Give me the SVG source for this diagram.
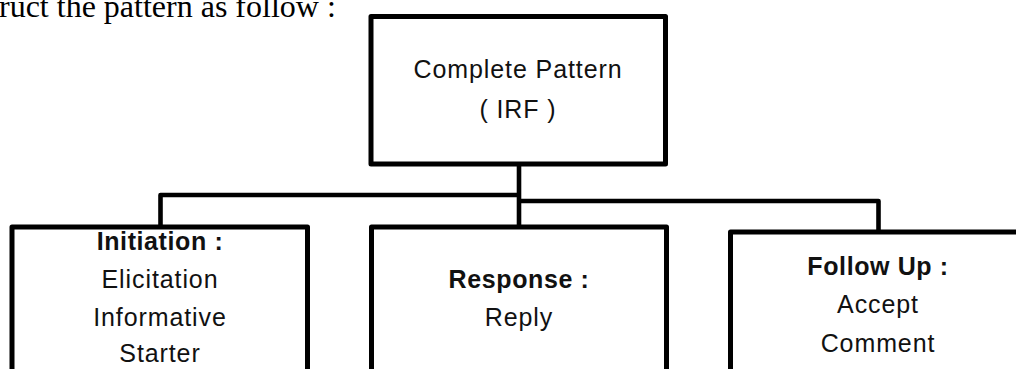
<svg xmlns="http://www.w3.org/2000/svg" width="1016" height="369" viewBox="0 0 1016 369">
<style>
.box{fill:#fff;stroke:#000;stroke-width:5;stroke-linejoin:round}
.con{fill:none;stroke:#000;stroke-width:4.6;stroke-linejoin:round}
.t{font-family:"Liberation Sans",Arial,sans-serif;font-size:25px;letter-spacing:0.9px;text-anchor:middle;fill:#111}
.b{font-weight:bold;letter-spacing:0.6px}
.cap{font-family:"Liberation Serif","Times New Roman",serif;font-size:32px;fill:#000}
</style>
<rect width="1016" height="369" fill="#fff"/>
<text class="cap" x="-1" y="17">ruct the pattern as follow :</text>
<g id="connectors">
<path class="con" d="M519,164 V227"/>
<path class="con" d="M519,195 H160.5 V227"/>
<path class="con" d="M519,201 H878.5 V232"/>
</g>
<g id="complete">
<rect class="box" x="371" y="16.5" width="294.5" height="147.5"/>
<text class="t" x="518" y="78">Complete Pattern</text>
<text class="t" x="518" y="118">( IRF )</text>
</g>
<g id="initiation">
<rect class="box" x="12" y="227" width="295.5" height="170"/>
<text class="t b" x="160" y="250">Initiation :</text>
<text class="t" x="160" y="288">Elicitation</text>
<text class="t" x="160" y="326">Informative</text>
<text class="t" x="160" y="362">Starter</text>
</g>
<g id="response">
<rect class="box" x="371.5" y="227" width="295" height="170"/>
<text class="t b" x="519" y="288">Response :</text>
<text class="t" x="519" y="326">Reply</text>
</g>
<g id="followup">
<rect class="box" x="730.5" y="232" width="295" height="170"/>
<text class="t b" x="878" y="275">Follow Up :</text>
<text class="t" x="878" y="313">Accept</text>
<text class="t" x="878" y="352">Comment</text>
</g>
</svg>
